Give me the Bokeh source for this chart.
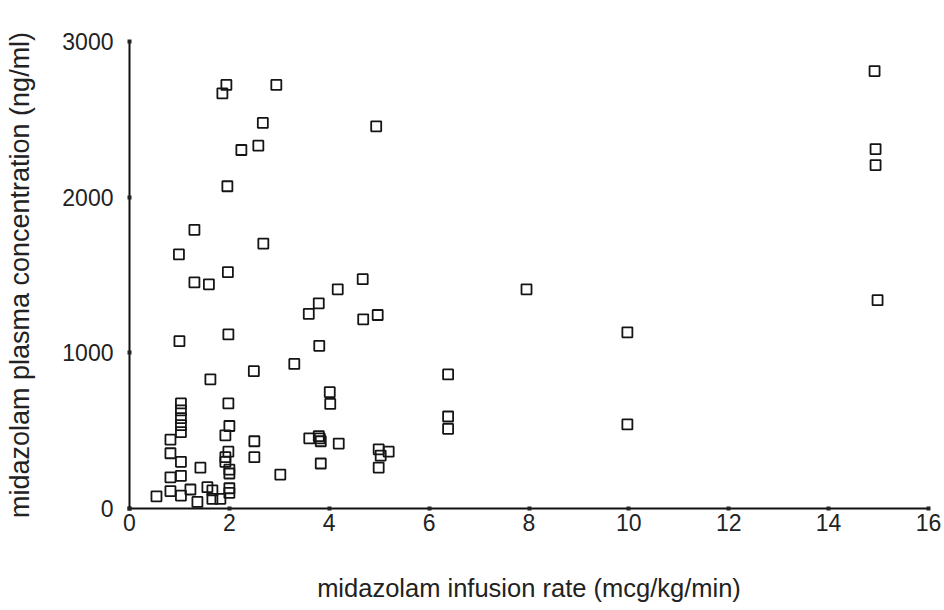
from bokeh.plotting import figure
from bokeh.models import Range1d, FixedTicker
from bokeh.embed import file_html
from bokeh.resources import INLINE

# infusion rate (mcg/kg/min)
rate = [0.54, 0.82, 0.82, 0.82, 0.82, 1.03, 1.03, 1.03, 1.03, 1.03, 1.03, 1.03, 1.03,
        1.00, 0.99, 1.22, 1.36, 1.42, 1.56, 1.66, 1.66, 1.82,
        1.30, 1.30, 1.59, 1.62, 1.86, 1.94, 1.96, 1.97, 1.98,
        1.98, 2.00, 1.92, 1.98, 1.92, 1.92, 2.00, 2.00, 2.00, 2.00,
        2.24, 2.58, 2.67, 2.68, 2.94, 2.49, 2.50, 2.50, 3.02,
        3.30, 3.59, 3.79, 3.80, 4.01, 4.02, 4.17, 4.67, 4.68, 4.97, 4.94,
        3.60, 3.79, 3.83, 3.81, 4.19, 3.83, 4.99, 5.03, 5.19, 4.99,
        6.38, 6.38, 6.38, 7.95, 9.97, 9.97,
        14.92, 14.94, 14.94, 14.98]
# plasma concentration (ng/ml)
conc = [78, 112, 200, 355, 442, 83, 210, 300, 490, 535, 580, 630, 675,
        1075, 1632, 122, 42, 262, 137, 116, 62, 62,
        1790, 1452, 1440, 830, 2667, 2721, 2070, 1518, 1118,
        675, 530, 470, 365, 330, 300, 250, 225, 130, 100,
        2303, 2331, 2477, 1702, 2721, 882, 432, 330, 218,
        929, 1250, 1318, 1045, 747, 672, 1408, 1473, 1215, 1243, 2455,
        451, 465, 432, 450, 417, 289, 380, 340, 365, 263,
        861, 591, 512, 1408, 1132, 540,
        2810, 2309, 2206, 1338]

x_ticks = [0, 2, 4, 6, 8, 10, 12, 14, 16]
y_ticks = [0, 1000, 2000, 3000]

FONT = "Liberation Sans"

p = figure(width=944, height=610, output_backend="svg", toolbar_location=None,
           x_range=Range1d(0, 16), y_range=Range1d(0, 3000),
           min_border_left=129, min_border_right=16, min_border_top=41,
           min_border_bottom=102)
p.outline_line_color = None
p.xgrid.visible = False
p.ygrid.visible = False
p.background_fill_color = "white"

p.scatter(rate, conc, marker="square", size=10, line_color="#151515",
          line_width=1.8, fill_color=None)

for ax in (p.xaxis[0], p.yaxis[0]):
    ax.axis_line_color = "#111111"
    ax.axis_line_width = 2
    ax.major_tick_line_color = "#222222"
    ax.major_tick_line_width = 4
    ax.major_tick_in = 2
    ax.major_tick_out = 2
    ax.minor_tick_line_color = None
    ax.major_label_text_font = FONT
    ax.major_label_text_font_size = "23px"
    ax.major_label_text_color = "#222222"
    ax.axis_label_text_font = FONT
    ax.axis_label_text_font_style = "normal"
    ax.axis_label_text_color = "#222222"

p.xaxis[0].axis_label_text_font_size = "25.5px"
p.yaxis[0].axis_label_text_font_size = "27px"
p.xaxis[0].ticker = FixedTicker(ticks=x_ticks)
p.yaxis[0].ticker = FixedTicker(ticks=y_ticks)
p.xaxis[0].axis_label = "midazolam infusion rate (mcg/kg/min)"
p.yaxis[0].axis_label = "midazolam plasma concentration (ng/ml)"
p.xaxis[0].major_label_standoff = 3
p.xaxis[0].axis_label_standoff = 40
p.yaxis[0].major_label_standoff = 14
p.yaxis[0].axis_label_standoff = 24

open("out.html", "w").write(file_html(p, INLINE))
